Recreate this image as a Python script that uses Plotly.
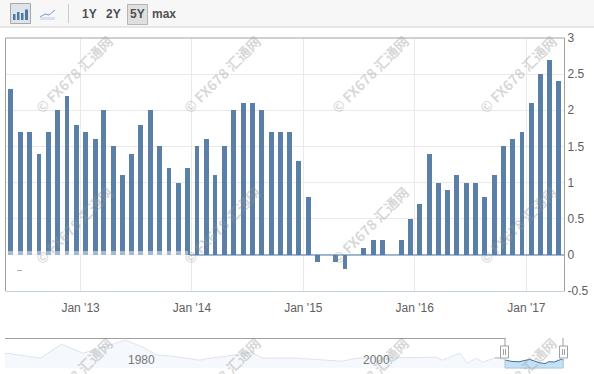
import plotly.graph_objects as go

W, H = 594, 374

# Main chart: CPI year-on-year, one bar per monthly release
release_dates = [f"{y}-{m:02d}-16" for y in range(2012, 2018) for m in range(1, 13)
                 if (y, m) >= (2012, 5) and (y, m) <= (2017, 4)]
cpi_values = [2.3, 1.7, 1.7, 1.4, 1.7, 2.0, 2.2, 1.8, 1.7,
              1.6, 2.0, 1.5, 1.1, 1.4, 1.8, 2.0, 1.5, 1.2, 1.0, 1.2, 1.5,
              1.6, 1.1, 1.5, 2.0, 2.1, 2.1, 2.0, 1.7, 1.7, 1.7, 1.3, 0.8,
              -0.1, 0.0, -0.1, -0.2, 0.0, 0.1, 0.2, 0.2, 0.0, 0.2, 0.5, 0.7,
              1.4, 1.0, 0.9, 1.1, 1.0, 1.0, 0.8, 1.1, 1.5, 1.6, 1.7, 2.1,
              2.5, 2.7, 2.4]
y_ticks = [-0.5, 0, 0.5, 1, 1.5, 2, 2.5, 3]
y_tick_labels = ["-0.5", "0", "0.5", "1", "1.5", "2", "2.5", "3"]

# Navigator overview
nav_years = [1969.9, 1970.1, 1972.9, 1974.7, 1976.5, 1978.0, 1980.1, 1981.6, 1982.8, 1984.1,
             1986.4, 1987.3, 1988.7, 1990.7, 1991.8, 1994.6, 1998.5, 1999.7, 2003.6, 2006.5,
             2007.0, 2008.5, 2009.1, 2009.9, 2010.4, 2011.6, 2012.3]
nav_values = [6.0, 6.4, 3.5, 11.6, 6.4, 9.3, 14.0, 9.9, 5.2, 4.6,
              2.3, 3.5, 4.6, 7.0, 3.5, 3.5, 1.7, 3.5, 3.8, 4.0,
              2.3, 6.4, 0.6, 3.5, 1.2, 4.0, 2.4]
sel_years = [2012.3, 2012.9, 2013.5, 2014.4, 2015.2, 2015.7, 2016.0, 2016.5, 2017.1, 2017.3]
sel_values = [2.4, 1.6, 1.4, 2.8, 0.9, 0.3, 1.4, 1.3, 2.9, 2.4]
nav_ticks = [1980, 2000]
buttons = [("1Y", 89), ("2Y", 113), ("5Y", 137.5), ("max", 164)]
WATERMARK = "© FX678 汇通网"
NAV_FLOOR = -2.3

def px_x(x): return x / W
def px_y(y): return 1 - y / H

def rect(x0, y0, x1, y1, fill=None, line=None, lw=1, layer="above"):
    return dict(type="rect", xref="paper", yref="paper", x0=px_x(x0), x1=px_x(x1), y0=px_y(y0), y1=px_y(y1),
                fillcolor=fill or "rgba(0,0,0,0)", line=dict(color=line or "rgba(0,0,0,0)", width=lw if line else 0), layer=layer)

def seg(x0, y0, x1, y1, color, lw=1, layer="above"):
    return dict(type="line", xref="paper", yref="paper", x0=px_x(x0), x1=px_x(x1), y0=px_y(y0), y1=px_y(y1),
                line=dict(color=color, width=lw), layer=layer)

fig = go.Figure()
BAR_WIDTH_MS = 16.0 * 86400000
fig.add_trace(go.Bar(x=release_dates, y=cpi_values, width=BAR_WIDTH_MS, marker=dict(color="#5a80a8", line=dict(width=0)),
                     xaxis="x", yaxis="y", showlegend=False))
for xs, ys, line_col, fill_col, lw in ((nav_years, nav_values, "#dbe5f0", "#f5f8fc", 1),
                                       (sel_years, sel_values, "#3f7199", "#c4e0f6", 1)):
    fig.add_trace(go.Scatter(x=xs, y=[NAV_FLOOR] * len(xs), mode="lines", line=dict(width=0), xaxis="x2", yaxis="y2", showlegend=False))
    fig.add_trace(go.Scatter(x=xs, y=ys, mode="lines", fill="tonexty", fillcolor=fill_col, line=dict(color=line_col, width=lw),
                             xaxis="x2", yaxis="y2", showlegend=False))

shapes = [
    rect(0, 0, 594, 26.5, fill="#f7f7f7", layer="below"),
    seg(0, 27, 594, 27, "#cfcfcf"),
    rect(10.5, 3.5, 30.5, 23.5, fill="#dfe3ea", line="#a8a8a8"),
    rect(13, 14, 15.5, 20, fill="#4a78a8"), rect(17, 12, 19.5, 20, fill="#4a78a8"),
    rect(21, 13, 23.5, 20, fill="#4a78a8"), rect(25, 9.5, 28, 20, fill="#4a78a8"),
    seg(40, 17, 45, 14, "#7a9cc0"), seg(45, 14, 49, 15, "#7a9cc0"), seg(49, 15, 55, 10, "#7a9cc0"),
    rect(40, 17, 55, 20, fill="#d8e2ee"),
    seg(68.5, 4, 68.5, 23, "#cccccc"),
    rect(127.5, 4.5, 147.5, 24.5, fill="#dfdfdf", line="#b5b5b5"),
    # plot frame
    seg(5.5, 38, 564.5, 38, "#a0a0a0"), seg(5.5, 38, 5.5, 291, "#a0a0a0"), seg(564.5, 38, 564.5, 291, "#a0a0a0"),
    seg(5.5, 291.5, 564.5, 291.5, "#c0d0e0"),
    # zero baseline and the faded strip at the foot of the earlier bars
    seg(190, 255, 564, 255, "#4a78a8"),
    rect(6, 251, 188, 255, fill="rgba(255,255,255,0.45)"),
    seg(17, 270.5, 22, 270.5, "#b0b0b0"),
    # navigator
    seg(5, 338.5, 505, 338.5, "#a0a0a0"), seg(505, 338, 505, 346, "#a0a0a0"), seg(563, 338, 563, 346, "#a0a0a0"),
    seg(495, 358, 500.5, 358, "#b8b8b8"),
    seg(505, 359, 505, 368, "#b0c8dc"), seg(505, 368, 563, 368, "#b0c8dc"), seg(563, 359, 563, 368, "#b0c8dc"),
    rect(500.5, 346, 508.5, 358, fill="#ffffff", line="#a0a0a0"),
    seg(503.5, 349, 503.5, 355, "#a0a0a0"), seg(505.5, 349, 505.5, 355, "#a0a0a0"),
    rect(559.5, 346, 567.5, 358, fill="#ffffff", line="#a0a0a0"),
    seg(562.5, 349, 562.5, 355, "#a0a0a0"), seg(564.5, 349, 564.5, 355, "#a0a0a0"),
]

annotations = []
for label, x in buttons:
    annotations.append(dict(text=f"<b>{label}</b>", xref="paper", yref="paper", x=px_x(x), y=px_y(14), xanchor="center", yanchor="middle",
                            showarrow=False, font=dict(family="Liberation Sans", size=12, color="#505050")))
for yr in nav_ticks:
    annotations.append(dict(text=str(yr), xref="x2", yref="paper", x=yr, xshift=17, y=px_y(360), xanchor="center", yanchor="middle",
                            showarrow=False, font=dict(family="Liberation Sans", size=12, color="#777777")))
for cx in (74, 222, 370, 518):
    for cy in (74, 225, 376):
        annotations.append(dict(text=f"<b>{WATERMARK}</b>", xref="paper", yref="paper", x=px_x(cx), y=px_y(cy), xanchor="center", yanchor="middle",
                                textangle=-45, showarrow=False,
                                font=dict(family="Noto Sans CJK SC", size=14, color="rgba(150,150,150,0.38)")))

fig.update_layout(
    width=W, height=H, margin=dict(l=0, r=0, t=0, b=0, autoexpand=False), paper_bgcolor="#ffffff", plot_bgcolor="#ffffff",
    showlegend=False, bargap=0, shapes=shapes, annotations=annotations,
    xaxis=dict(domain=[px_x(5.5), px_x(564.5)], range=["2012-04-30", "2017-05-06"], type="date", dtick="M12", tick0="2013-01-01",
               tickformat="%b '%y", tickfont=dict(family="Liberation Sans", size=12, color="#606060"), showgrid=True,
               gridcolor="#eaeaea", gridwidth=1, ticks="", showline=False, zeroline=False, anchor="y", ticklabelstandoff=8),
    yaxis=dict(domain=[px_y(291), px_y(38)], range=[-0.5, 3], side="right", tickvals=y_ticks, ticktext=y_tick_labels,
               tickfont=dict(family="Liberation Sans", size=12, color="#606060"), showgrid=True, gridcolor="#eaeaea", gridwidth=1,
               zeroline=False, showline=False, anchor="x", ticklabelstandoff=2),
    xaxis2=dict(domain=[px_x(5), px_x(565)], range=[1969.9, 2017.4], visible=False, anchor="y2"),
    yaxis2=dict(domain=[px_y(374), px_y(338)], range=[-5.7, 15.2], visible=False, anchor="x2"),
)
fig.write_html("out.html", config={"displayModeBar": False}, post_script="document.body.style.margin='0';")
